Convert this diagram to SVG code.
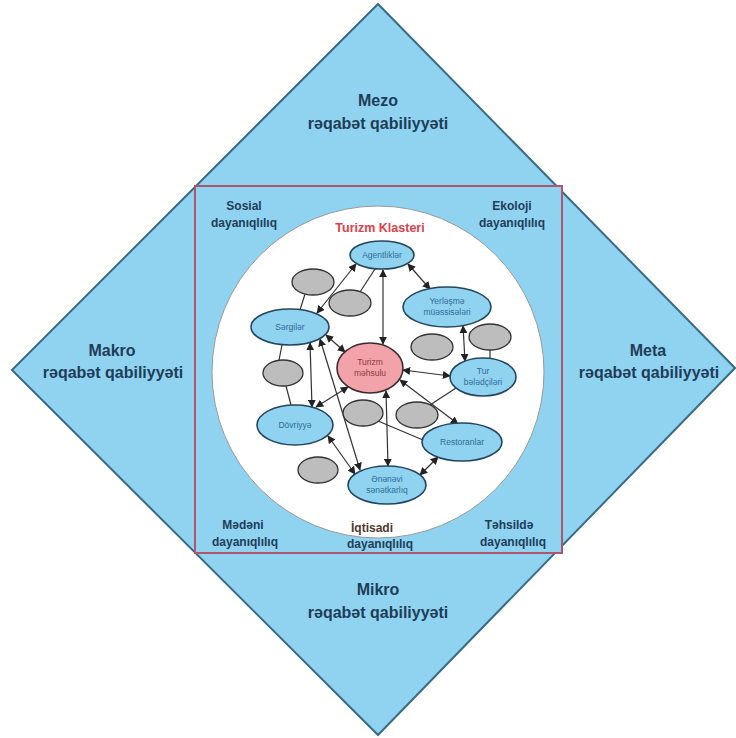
<svg xmlns="http://www.w3.org/2000/svg" width="736" height="738" viewBox="0 0 736 738">
<defs>
<style>
.big{font-family:"Liberation Sans",Arial,sans-serif;font-weight:bold;font-size:16px;fill:#1f3d58;text-anchor:middle}
.mid{font-family:"Liberation Sans",Arial,sans-serif;font-weight:bold;font-size:12px;fill:#1f3d58;text-anchor:middle}
.nt{font-family:"Liberation Sans",Arial,sans-serif;font-size:8.5px;fill:#2f6b98;text-anchor:middle}
.bn{fill:#8fd3f0;stroke:#24455f;stroke-width:1.6}
.gn{fill:#bdbdbd;stroke:#333;stroke-width:1.3}
.ln{stroke:#333;stroke-width:1.2;fill:none}
.dl{marker-start:url(#ah);marker-end:url(#ah)}
</style>
<marker id="ah" viewBox="0 0 10 10" refX="9" refY="5" markerWidth="8" markerHeight="8" markerUnits="userSpaceOnUse" orient="auto-start-reverse">
<path d="M0,0 L10,5 L0,10 z" fill="#222"/>
</marker>
</defs>
<rect width="736" height="738" fill="#ffffff"/>
<g id="diamond">
<polygon points="378,4 735,368 378,735 12,370" fill="#8fd3f0" stroke="#3a6b86" stroke-width="2"/>
</g>
<g id="square">
<rect x="195" y="186" width="367" height="367" fill="#8fd3f0" stroke="#b0566c" stroke-width="2"/>
</g>
<g id="circle">
<circle cx="378" cy="372" r="166" fill="#ffffff" stroke="#9a9a9a" stroke-width="1"/>
</g>
<g id="outer-labels">
<text class="big" x="378" y="106">Mezo</text>
<text class="big" x="378" y="129">rəqabət qabiliyyəti</text>
<text class="big" x="112" y="356">Makro</text>
<text class="big" x="113" y="378">rəqabət qabiliyyəti</text>
<text class="big" x="648" y="356">Meta</text>
<text class="big" x="649" y="378">rəqabət qabiliyyəti</text>
<text class="big" x="378" y="595">Mikro</text>
<text class="big" x="378" y="618">rəqabət qabiliyyəti</text>
</g>
<g id="corner-labels">
<text class="mid" x="244" y="210">Sosial</text>
<text class="mid" x="244" y="227">dayanıqlılıq</text>
<text class="mid" x="512" y="210">Ekoloji</text>
<text class="mid" x="512" y="227">dayanıqlılıq</text>
<text class="mid" x="243" y="529">Mədəni</text>
<text class="mid" x="245" y="546">dayanıqlılıq</text>
<text class="mid" x="372" y="532" style="fill:#4e3a2c">İqtisadi</text>
<text class="mid" x="380" y="548">dayanıqlılıq</text>
<text class="mid" x="509" y="529">Təhsildə</text>
<text class="mid" x="513" y="546">dayanıqlılıq</text>
<text x="380" y="232" style="font-family:'Liberation Sans',Arial,sans-serif;font-weight:bold;font-size:12.5px;fill:#e0404a;text-anchor:middle">Turizm Klasteri</text>
</g>
<g id="connectors">
<line class="ln dl" x1="383" y1="270" x2="383" y2="344"/>
<line class="ln dl" x1="408" y1="264" x2="430" y2="289"/>
<line class="ln dl" x1="356" y1="264" x2="317" y2="313"/>
<line class="ln" x1="375" y1="269" x2="360" y2="292"/>
<line class="ln" x1="305" y1="294" x2="300" y2="310"/>
<line class="ln dl" x1="326" y1="335" x2="345" y2="352"/>
<line class="ln" x1="282" y1="345" x2="279" y2="360"/>
<line class="ln dl" x1="310" y1="343" x2="312" y2="407"/>
<line class="ln dl" x1="320" y1="339" x2="360" y2="470"/>
<line class="ln dl" x1="348" y1="387" x2="316" y2="407"/>
<line class="ln dl" x1="386" y1="391" x2="388" y2="466"/>
<line class="ln dl" x1="400" y1="380" x2="458" y2="424"/>
<line class="ln dl" x1="403" y1="370" x2="450" y2="376"/>
<line class="ln dl" x1="463" y1="326" x2="465" y2="361"/>
<line class="ln" x1="490" y1="350" x2="490" y2="358"/>
<line class="ln" x1="456" y1="388" x2="430" y2="405"/>
<line class="ln" x1="378" y1="421" x2="423" y2="440"/>
<line class="ln dl" x1="328" y1="436" x2="355" y2="474"/>
<line class="ln dl" x1="438" y1="457" x2="420" y2="475"/>
<line class="ln" x1="286" y1="386" x2="291" y2="405"/>
</g>
<g id="n-agentlikler">
<ellipse class="bn" cx="382" cy="255" rx="32" ry="14"/>
<text class="nt" x="382" y="258">Agentliklər</text>
</g>
<g id="n-yerlesme">
<ellipse class="bn" cx="447" cy="307" rx="44" ry="20"/>
<text class="nt" x="447" y="304">Yerləşmə</text>
<text class="nt" x="447" y="315">müəssisələri</text>
</g>
<g id="n-sergiler">
<ellipse class="bn" cx="290" cy="327" rx="39" ry="18"/>
<text class="nt" x="290" y="330">Sərgilər</text>
</g>
<g id="n-turizm">
<ellipse cx="370" cy="368" rx="33" ry="25" fill="#f2a3aa" stroke="#3a2a2e" stroke-width="1.6"/>
<text class="nt" x="370" y="365" style="fill:#8c3a44">Turizm</text>
<text class="nt" x="370" y="376" style="fill:#8c3a44">məhsulu</text>
</g>
<g id="n-tur">
<ellipse class="bn" cx="483" cy="377" rx="33" ry="19"/>
<text class="nt" x="483" y="374">Tur</text>
<text class="nt" x="483" y="385">bələdçiləri</text>
</g>
<g id="n-dovriyye">
<ellipse class="bn" cx="295" cy="425" rx="38" ry="20"/>
<text class="nt" x="295" y="428">Dövriyyə</text>
</g>
<g id="n-restoranlar">
<ellipse class="bn" cx="462" cy="442" rx="40" ry="19"/>
<text class="nt" x="462" y="445">Restoranlar</text>
</g>
<g id="n-enenevi">
<ellipse class="bn" cx="387" cy="485" rx="39" ry="19"/>
<text class="nt" x="387" y="482">Ənənəvi</text>
<text class="nt" x="387" y="493">sənətkarlıq</text>
</g>
<g id="gray-nodes">
<ellipse id="g1" class="gn" cx="313" cy="282" rx="21" ry="13"/>
<ellipse id="g2" class="gn" cx="350" cy="303" rx="21" ry="13"/>
<ellipse id="g3" class="gn" cx="283" cy="373" rx="20" ry="13"/>
<ellipse id="g4" class="gn" cx="432" cy="347" rx="21" ry="13"/>
<ellipse id="g5" class="gn" cx="490" cy="337" rx="21" ry="13"/>
<ellipse id="g6" class="gn" cx="363" cy="413" rx="20" ry="13"/>
<ellipse id="g7" class="gn" cx="417" cy="415" rx="21" ry="13"/>
<ellipse id="g8" class="gn" cx="318" cy="470" rx="20" ry="13"/>
</g>
</svg>
